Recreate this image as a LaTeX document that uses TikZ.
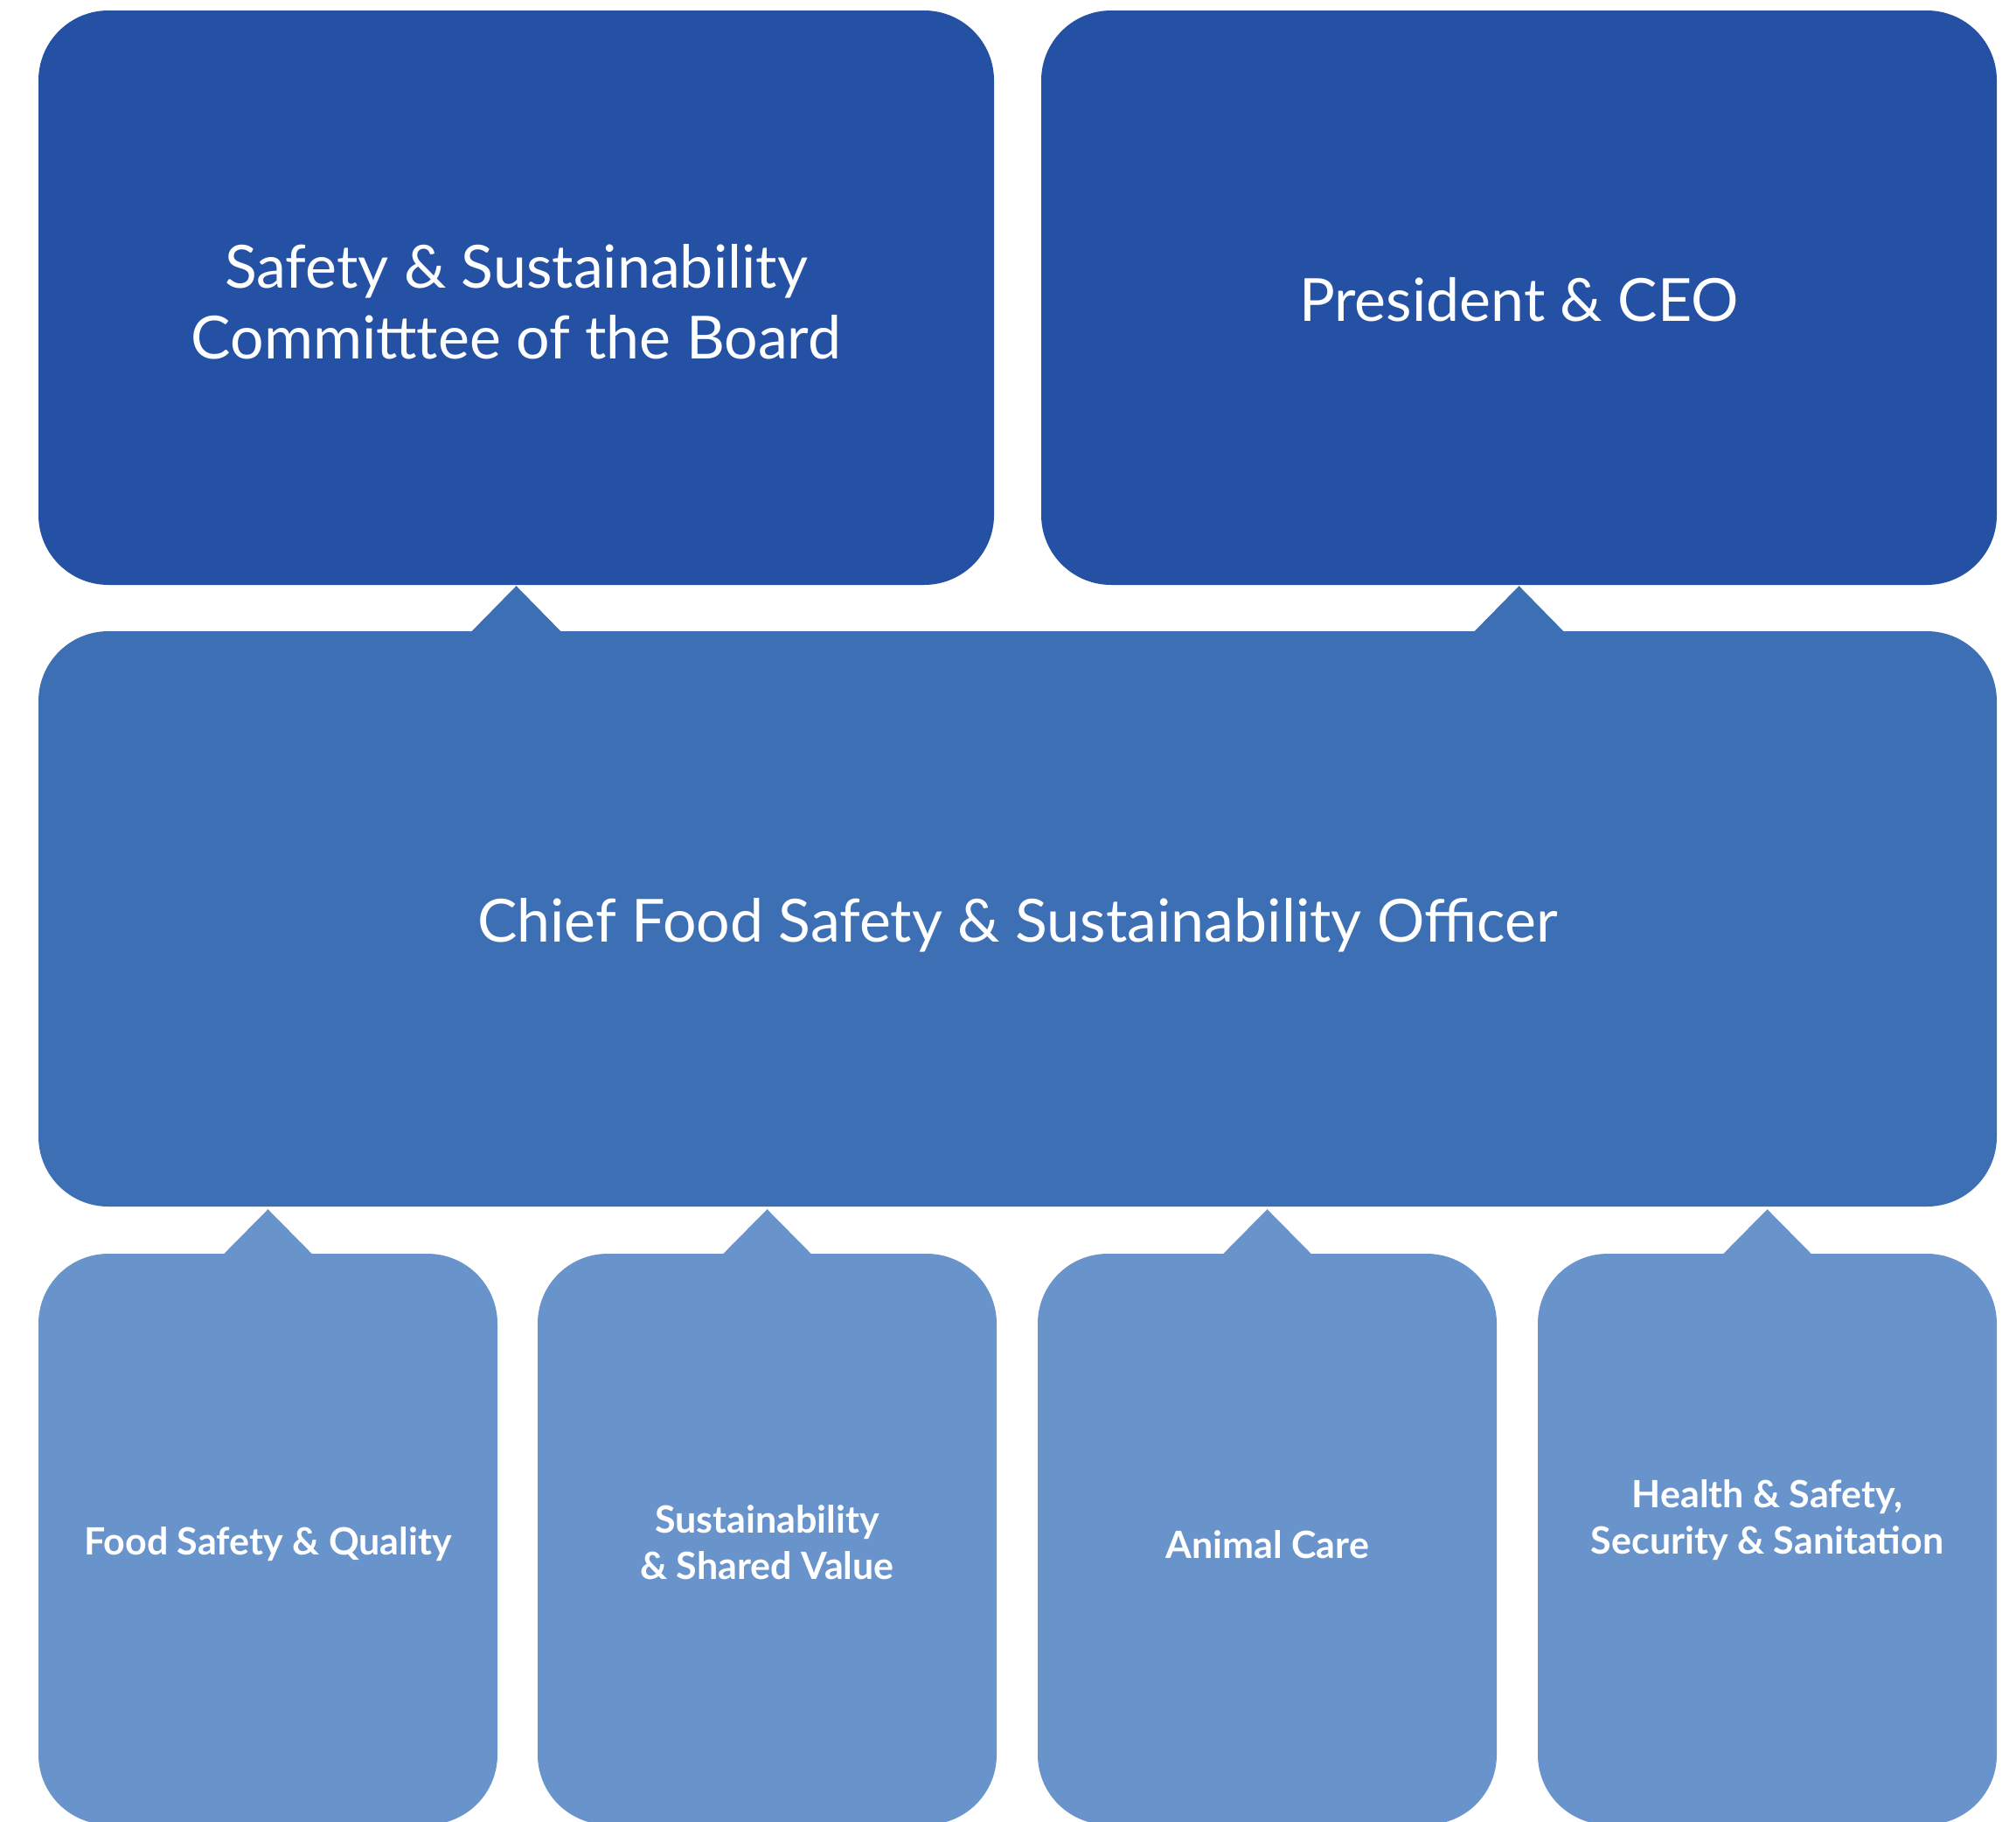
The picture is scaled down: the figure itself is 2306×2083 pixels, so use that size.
\documentclass[tikz,border=0pt]{standalone}
\usepackage{fontspec}
\setmainfont{Lato}
\usetikzlibrary{calc}
\definecolor{topc}{RGB}{36,81,164}
\definecolor{midc}{RGB}{61,111,181}
\definecolor{botc}{RGB}{104,147,203}
\tikzset{
  box/.style={rectangle, rounded corners=80pt, inner sep=0pt},
  topbox/.style={box, fill=topc, minimum width=1093pt, minimum height=657pt},
  midbox/.style={box, fill=midc, minimum width=2240pt, minimum height=658pt},
  botbox/.style={box, fill=botc, minimum width=525pt, minimum height=653pt},
  bigtext/.style={inner sep=0pt, align=center, text=white, font=\fontsize{68}{81}\selectfont},
  smalltext/.style={inner sep=0pt, align=center, text=white, font=\fontsize{43}{53}\selectfont\bfseries},
}
\begin{document}
\begin{tikzpicture}[x=1pt,y=-1pt]
\useasboundingbox[fill=white] (0,0) rectangle (2306,2083);
\node[topbox] (tl) at (590.5,340.5) {};
\node[topbox] (tr) at (1737.5,340.5) {};
\node[midbox] (mid) at (1164,1051) {};
\node[botbox] (b1) at (306.5,1760.5) {};
\node[botbox] (b2) at (877.5,1760.5) {};
\node[botbox] (b3) at (1449.5,1760.5) {};
\node[botbox] (b4) at (2021.5,1760.5) {};
\node[bigtext] (tlt) at ($(tl.center)+(0,5)$) {Safety \& Sustainability\\Committtee of the Board};
\node[bigtext] (trt) at ($(tr.center)+(0,2)$) {President \& CEO};
\node[bigtext] (midt) at ($(mid.center)+(0,7)$) {Chief Food Safety \& Sustainability Officer};
\node[smalltext] (b1t) at ($(b1.center)+(0,6)$) {Food Safety \& Quality};
\node[smalltext] (b2t) at ($(b2.center)+(0,4)$) {Sustainability\\\& Shared Value};
\node[smalltext] (b3t) at ($(b3.center)+(0,6)$) {Animal Care};
\node[smalltext] (b4t) at ($(b4.center)+(0,-22)$) {Health \& Safety,\\Security \& Sanitation};
\foreach \s in {tl,tr}{
  \fill[midc] ($(\s.south)+(-53,55)$) -- ($(\s.south)+(0,1)$) -- ($(\s.south)+(53,55)$) -- cycle;
}
\foreach \s in {b1,b2,b3,b4}{
  \fill[botc] ($(\s.north)+(-52,2)$) -- ($(\s.north|-mid.south)+(0,3)$) -- ($(\s.north)+(52,2)$) -- cycle;
}
\end{tikzpicture}
\end{document}
